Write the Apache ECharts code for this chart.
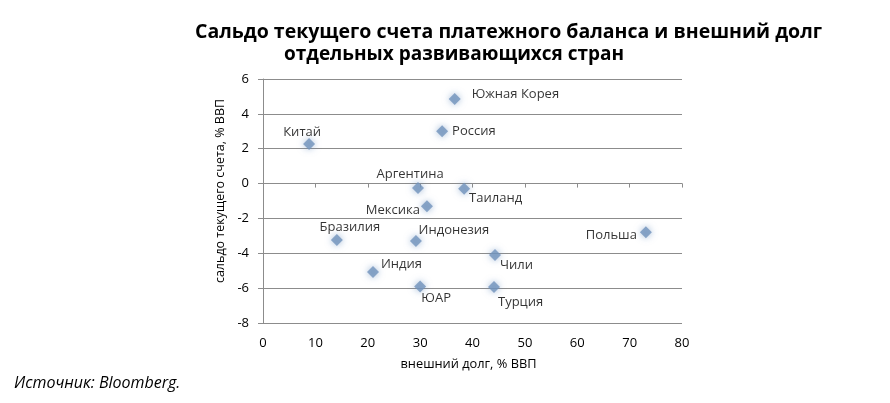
<!DOCTYPE html>
<html>
<head>
<meta charset="utf-8">
<script src="https://cdn.jsdelivr.net/npm/echarts@6/dist/echarts.min.js"></script>
<style>
  html, body { margin: 0; padding: 0; background: #fff; }
  #chart { width: 890px; height: 403px; }
</style>
</head>
<body>
<div id="chart"></div>
<script>
// данные
const countries = ['Южная Корея', 'Россия', 'Китай', 'Аргентина', 'Таиланд', 'Мексика',
  'Бразилия', 'Индонезия', 'Польша', 'Чили', 'Индия', 'ЮАР', 'Турция'];
const externalDebt = [36.6, 34.2, 8.8, 29.6, 38.4, 31.3, 14.1, 29.2, 73.1, 44.3, 21.0, 30.0, 44.1];
const currentAccount = [4.85, 3.0, 2.27, -0.25, -0.3, -1.3, -3.24, -3.3, -2.8, -4.1, -5.07, -5.9, -5.93];

// где стоит подпись относительно точки: [позиция, dx, dy]
const labelPlace = [
  ['right', 5, -5], ['right', -2, 0], ['top', -7, 7], ['top', -8, 5],
  ['right', -7, 9], ['left', 5, 4], ['top', 13, 6], ['top', 38, 8],
  ['left', 3, 3], ['right', -7, 10], ['right', -4, -8], ['bottom', 16, -7], ['right', -8, 15]
];

const font = '"Open Sans", "Noto Sans", sans-serif';

const points = countries.map((name, i) => ({
  name,
  value: [externalDebt[i], currentAccount[i]],
  label: { position: labelPlace[i][0], offset: [labelPlace[i][1], labelPlace[i][2]] }
}));

const chart = echarts.init(document.getElementById('chart'));
chart.setOption({
  animation: false,
  title: [
    {
      text: 'Сальдо текущего счета платежного баланса и внешний долг',
      left: 190, top: 17,
      textStyle: { fontFamily: font, fontSize: 19.5, fontWeight: 'bold', color: '#000' }
    },
    {
      text: 'отдельных развивающихся стран',
      left: 279, top: 40,
      textStyle: { fontFamily: font, fontSize: 19, fontWeight: 'bold', color: '#000' }
    },
    {
      text: 'Источник: Bloomberg.',
      left: 9, top: 370,
      textStyle: { fontFamily: font, fontSize: 16, fontStyle: 'italic', fontWeight: 'normal', color: '#000' }
    }
  ],
  grid: { left: 263, right: 208, top: 79, bottom: 80 },
  xAxis: [
    {
      type: 'value', min: 0, max: 80, interval: 10,
      axisLine: { onZero: true, lineStyle: { color: '#8c8c8c' } },
      axisTick: { show: true, length: 4, inside: false, lineStyle: { color: '#8c8c8c' } },
      axisLabel: { show: false },
      splitLine: { show: false }
    },
    {
      type: 'value', min: 0, max: 80, interval: 10, position: 'bottom',
      axisLine: { show: false },
      axisTick: { show: false },
      axisLabel: { fontFamily: font, fontSize: 13, color: '#000', margin: 14 },
      splitLine: { show: false },
      name: 'внешний долг, % ВВП',
      nameLocation: 'middle', nameGap: 35,
      nameTextStyle: { fontFamily: font, fontSize: 12.8, color: '#000', padding: [0, 8, 0, 0] }
    }
  ],
  yAxis: {
    type: 'value', min: -8, max: 6, interval: 2,
    axisLine: { show: true, onZero: false, lineStyle: { color: '#8c8c8c' } },
    axisTick: { show: true, length: 5, lineStyle: { color: '#8c8c8c' } },
    axisLabel: { fontFamily: font, fontSize: 13, color: '#000', margin: 14 },
    splitLine: { lineStyle: { color: '#8c8c8c', width: 1 } },
    name: 'сальдо текущего счета, % ВВП',
    nameLocation: 'middle', nameGap: 36,
    nameTextStyle: { fontFamily: font, fontSize: 12.5, color: '#000', padding: [0, 0, 0, 20] }
  },
  series: [
    {
      type: 'scatter',
      xAxisIndex: 0,
      data: points,
      symbol: 'diamond',
      symbolSize: 12,
      itemStyle: {
        color: '#7192bb',
        shadowBlur: 7,
        shadowColor: 'rgba(100,140,190,0.75)'
      },
      label: {
        show: true,
        formatter: '{b}',
        fontFamily: font,
        fontSize: 13,
        color: '#000',
        distance: 6
      }
    }
  ]
});
</script>
</body>
</html>
